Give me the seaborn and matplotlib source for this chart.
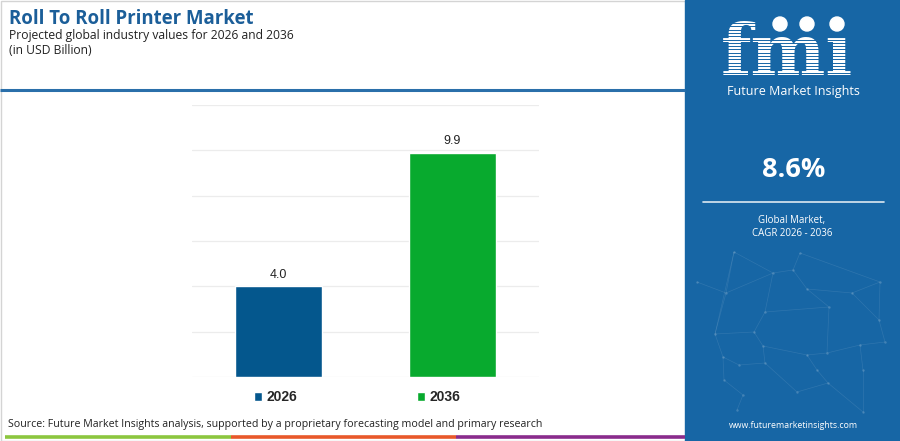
import matplotlib
matplotlib.use('Agg')
import numpy as np
import pandas as pd
import matplotlib.pyplot as plt
import seaborn as sns
from matplotlib.patches import Rectangle, Circle

# chart data
years = ['2026', '2036']
values = [4.0, 9.9]
bar_colors = ['#04578d', '#08aa2e']
cagr = '8.6%'

title = 'Roll To Roll Printer Market'
subtitle = 'Projected global industry values for 2026 and 2036'
unit = '(in USD Billion)'
source = ('Source: Future Market Insights analysis, supported by a proprietary '
          'forecasting model and primary research')

sns.set_theme(style='white')
plt.rcParams['font.family'] = ['Open Sans', 'DejaVu Sans']

fig = plt.figure(figsize=(9, 4.41), dpi=100)
fig.patch.set_facecolor('white')

# background layer, pixel coordinates (y down)
bg = fig.add_axes([0, 0, 1, 1], zorder=0)
bg.set_xlim(0, 900)
bg.set_ylim(441, 0)
bg.axis('off')

panel = '#1766a5'
bg.add_patch(Rectangle((0.5, 0.5), 899, 440, fill=False, ec='#d4d4d4', lw=1))
bg.add_patch(Rectangle((685, 0), 215, 441, color=panel))
bg.plot([0, 685], [90, 90], color='#2a6faa', lw=2.2, solid_capstyle='butt')

# bottom colour strip
for x0, x1, c in [(5, 231, '#8cc63f'), (231, 456, '#e8582a'), (456, 685, '#8a2b8c')]:
    bg.plot([x0, x1], [437, 437], color=c, lw=2.6, solid_capstyle='butt')

# header text
bg.text(9, 19, title, fontsize=13.4, weight='bold', color='#1b5e99', va='center')
bg.text(9, 35, subtitle, fontsize=8.7, color='#222222', va='center')
bg.text(9, 50, unit, fontsize=8.7, color='#222222', va='center')
bg.text(8, 425, source, fontsize=7.7, color='#222222', va='center')

# right panel: faint network decoration
nodes = [(734, 252), (800, 253), (697, 282), (726, 293), (773, 273), (793, 270),
         (880, 282), (807, 289), (852, 293), (765, 312), (829, 307), (715, 334),
         (754, 332), (879, 320), (763, 346), (807, 355), (827, 353), (860, 345),
         (885, 342), (723, 357), (739, 365), (765, 363), (817, 370), (863, 370),
         (724, 380), (743, 395), (797, 392), (828, 383), (737, 410), (863, 412)]
edges = [(0, 3), (0, 4), (1, 5), (1, 6), (2, 3), (3, 4), (4, 5), (5, 7), (7, 8),
         (6, 8), (4, 9), (9, 10), (7, 10), (3, 11), (11, 12), (9, 12), (8, 13),
         (12, 14), (14, 15), (15, 16), (10, 16), (16, 17), (17, 18), (13, 18),
         (11, 19), (19, 20), (20, 21), (14, 21), (15, 22), (22, 27), (17, 23),
         (19, 24), (24, 25), (21, 26), (26, 27), (25, 28), (23, 29), (27, 29),
         (6, 13), (0, 11)]
for a, b in edges:
    bg.plot([nodes[a][0], nodes[b][0]], [nodes[a][1], nodes[b][1]],
            color='white', lw=0.5, alpha=0.1)
bg.scatter([n[0] for n in nodes], [n[1] for n in nodes], s=3, color='white',
           alpha=0.18, lw=0)

# right panel: logo
bg.text(721, 75, 'fm\u0131', family='DejaVu Serif', weight='bold', fontsize=51,
        color='white', va='baseline', zorder=3)
for yy in np.arange(23, 77, 3.3):
    bg.plot([712, 865], [yy, yy], color=panel, lw=0.7, zorder=4)
for cx in [780, 807, 837]:
    bg.add_patch(Circle((cx, 24), 7, color='white', zorder=5))
bg.text(793, 92, 'Future Market Insights', color='white', fontsize=9,
        ha='center', va='center')

bg.text(794, 170, cagr, color='white', fontsize=19.5, weight='bold',
        ha='center', va='center')
bg.plot([703, 884], [202, 202], color='white', lw=1.2, alpha=0.85)
bg.text(792, 221, 'Global Market,', color='white', fontsize=7, ha='center', va='center')
bg.text(792, 234, 'CAGR 2026 - 2036', color='white', fontsize=7, ha='center', va='center')
bg.text(793, 425, 'www.futuremarketinsights.com', color='white', fontsize=6.3,
        ha='center', va='center')

# bar chart
ax = fig.add_axes([192 / 900, 64 / 441, 347 / 900, 272 / 441], zorder=1)
ax.set_facecolor('none')
df = pd.DataFrame({'year': years, 'value': values})
sns.barplot(data=df, x='year', y='value', hue='year', palette=bar_colors,
            width=0.5, saturation=1, ax=ax, legend=True)
ax.set_ylim(0, 12)
ax.set_yticks(range(0, 13, 2))
ax.grid(axis='y', color='#ececec', lw=0.9)
ax.set_axisbelow(True)
sns.despine(ax=ax, left=True, bottom=True)
ax.tick_params(labelleft=False, labelbottom=False, length=0)
ax.set_xlabel('')
ax.set_ylabel('')
for cont in ax.containers:
    ax.bar_label(cont, fmt='%.1f', padding=4, fontsize=9,
                 fontfamily='Liberation Sans', color='#222222')

sns.move_legend(ax, 'center', bbox_to_anchor=(0.476, -0.074), ncol=2,
                frameon=False, title=None, handlelength=0.6, handleheight=0.6,
                handletextpad=0.3, columnspacing=8.6,
                prop={'family': 'Liberation Sans', 'weight': 'bold', 'size': 10})

fig.savefig('out.png', dpi=100)
